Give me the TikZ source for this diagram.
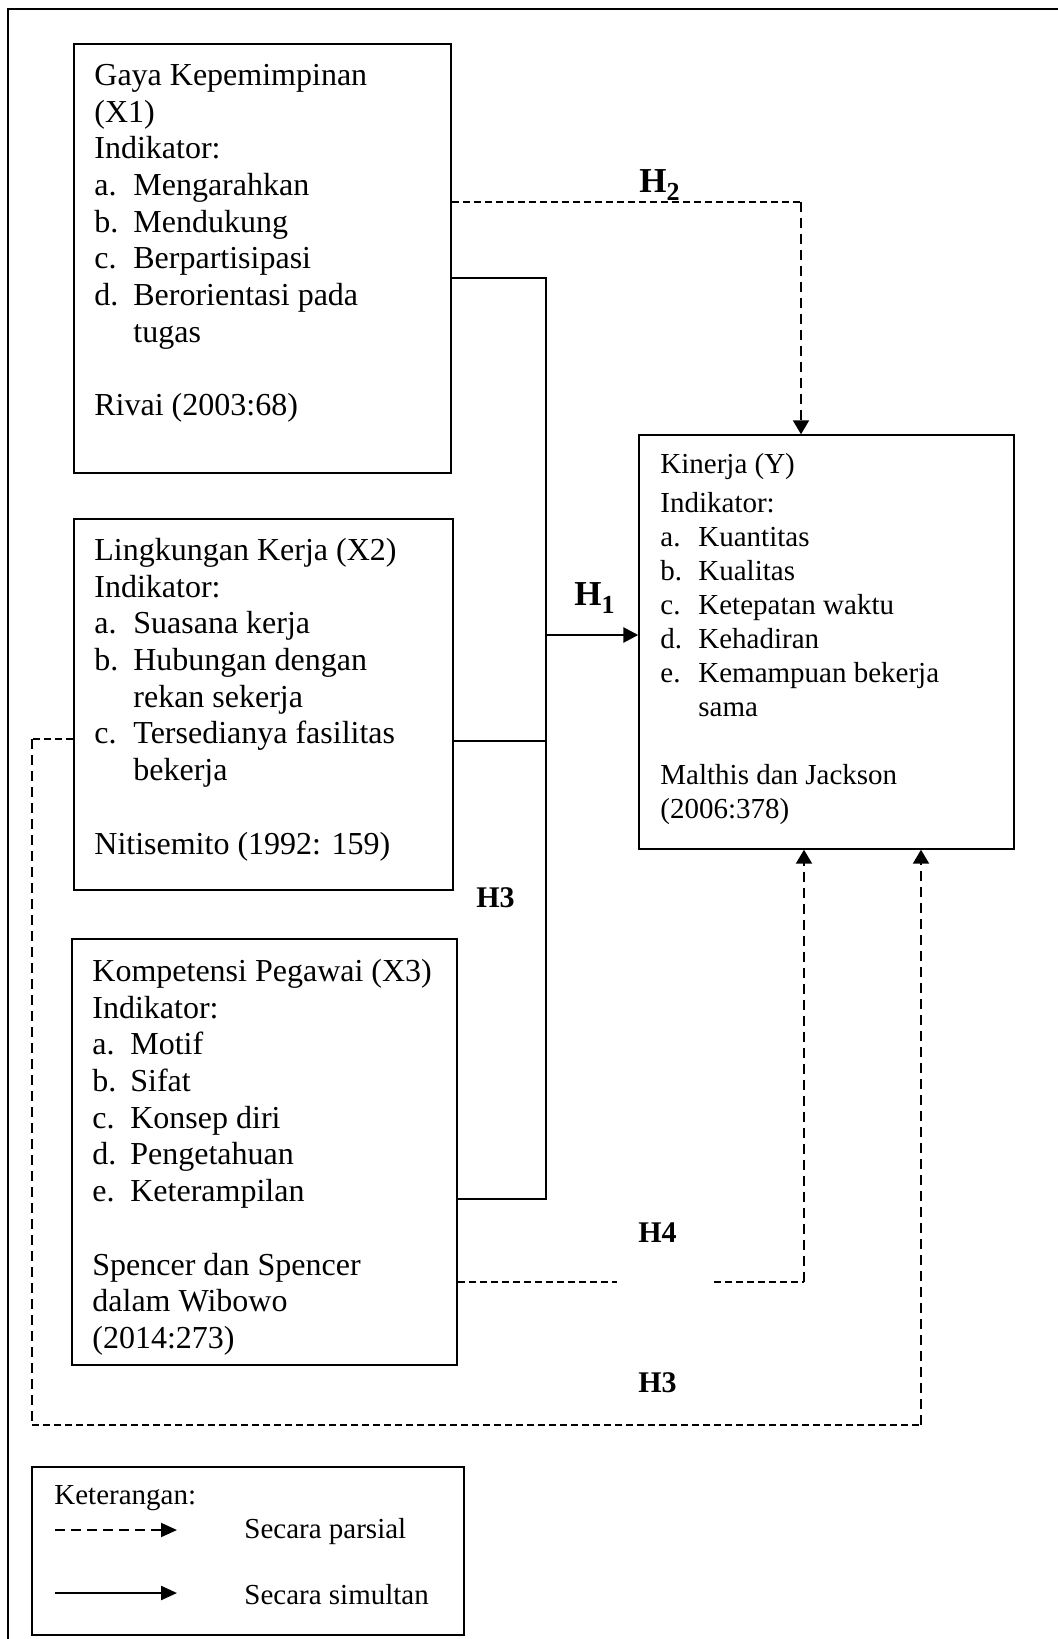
\documentclass[tikz,border=0pt]{standalone}
\usepackage{fontspec}
\setmainfont{Liberation Serif}
\usetikzlibrary{arrows.meta,fit}
\newcommand\itm[2][19.5pt]{\makebox[#1][l]{#2}}
\newcommand\hsub[1]{\raisebox{-4pt}{\fontsize{13}{13}\selectfont #1}}
\tikzset{
  varbox/.style={draw, line width=0.7pt, inner sep=0pt},
  boxtext/.style={anchor=north west, inner sep=0pt, align=left, font=\fontsize{16}{18.35}\selectfont},
  ktext/.style={anchor=north west, inner sep=0pt, align=left, font=\fontsize{14.5}{17}\selectfont},
  legtext/.style={anchor=base west, inner sep=0pt, font=\fontsize{14.5}{17}\selectfont},
  hlab/.style={anchor=base west, inner sep=0pt, font=\fontsize{15}{18}\selectfont\bfseries},
  hmath/.style={anchor=base west, inner sep=0pt, font=\fontsize{17.5}{20}\selectfont\bfseries},
  solidline/.style={line width=1pt},
  thickarrow/.style={line width=1.4pt, -{Triangle[length=7.5pt,width=7.5pt]}},
  hdash/.style={line width=0.85pt, dash pattern=on 3.5pt off 2pt},
  vdash/.style={line width=1pt, dash pattern=on 5pt off 3pt},
  varrow/.style={vdash, -{Triangle[length=7pt,width=8pt]}},
  legdash/.style={line width=1pt, dash pattern=on 5pt off 3pt, -{Triangle[length=8pt,width=7pt]}},
  legsolid/.style={line width=1.2pt, -{Triangle[length=8pt,width=7pt]}},
}
\begin{document}
\begin{tikzpicture}[x=0.5pt,y=-0.5pt]
\useasboundingbox (0,0) rectangle (1058,1639);
\clip (0,0) rectangle (1058,1639);
\fill[white] (0,0) rectangle (1058,1639);
% outer frame (cut by the page on the right and bottom)
\draw[line width=1.3pt] (8,1700) -- (8,9) -- (1120,9);

% boxes
\node[varbox, fit={(74,44) (451,473)}] (x1) {};
\node[varbox, fit={(74,519) (453,890)}] (x2) {};
\node[varbox, fit={(72,939) (457,1365)}] (x3) {};
\node[varbox, fit={(639,435) (1014,849)}] (ky) {};
\node[varbox, fit={(32,1467) (464,1635)}] (leg) {};

% box texts
\node[boxtext] (x1t) at (94,59.3) {\strut Gaya Kepemimpinan\\(X1)\\Indikator:\\
\itm{a.}Mengarahkan\\\itm{b.}Mendukung\\\itm{c.}Berpartisipasi\\
\itm{d.}Berorientasi pada\\\itm{}tugas\\\strut\\Rivai (2003:68)};
\node[boxtext] (x2t) at (94,534.3) {\strut Lingkungan Kerja (X2)\\Indikator:\\
\itm{a.}Suasana kerja\\\itm{b.}Hubungan dengan\\\itm{}rekan sekerja\\
\itm{c.}Tersedianya fasilitas\\\itm{}bekerja\\\strut\\Nitisemito (1992: 159)};
\node[boxtext] (x3t) at (92,955.3) {\strut Kompetensi Pegawai (X3)\\Indikator:\\
\itm[19pt]{a.}Motif\\\itm[19pt]{b.}Sifat\\\itm[19pt]{c.}Konsep diri\\
\itm[19pt]{d.}Pengetahuan\\\itm[19pt]{e.}Keterampilan\\\strut\\
Spencer dan Spencer\\dalam Wibowo\\(2014:273)};
\node[ktext] (kyt) at (660,449.2) {\strut Kinerja (Y)\\[2.5pt]Indikator:\\
\itm[19pt]{a.}Kuantitas\\\itm[19pt]{b.}Kualitas\\\itm[19pt]{c.}Ketepatan waktu\\
\itm[19pt]{d.}Kehadiran\\\itm[19pt]{e.}Kemampuan bekerja\\\itm[19pt]{}sama\\\strut\\
Malthis dan Jackson\\(2006:378)};

% hypothesis labels
\node[hmath] (h2) at (639,192) {H\hsub{2}};
\node[hmath] (h1) at (574,605) {H\hsub{1}};
\node[hlab] (h3m) at (476,907) {H3};
\node[hlab] (h4) at (638,1242) {H4};
\node[hlab] (h3b) at (638,1392) {H3};

% H2 (partial, X1 -> Y)
\coordinate (h2turn) at (801,202);
\draw[hdash] (x1.east |- h2turn) -- (h2turn);
\draw[varrow] (h2turn) -- (h2turn |- ky.north);

% simultaneous connectors
\coordinate (sjunc) at (546,278);
\coordinate (x3j) at (546,1199);
\coordinate (x2j) at (546,741);
\coordinate (h1y) at (546,635);
\draw[solidline] (x1.east |- sjunc) -- (sjunc) -- (x3j) -- (x3.east |- x3j);
\draw[solidline] (x2.east |- x2j) -- (x2j);
\draw[thickarrow] (x2j) -- (h1y) -- (ky.west |- h1y);

% H3 (partial, X2 -> Y)
\coordinate (h3a) at (32,739);
\coordinate (h3b) at (32,1425);
\coordinate (h3c) at (921,1425);
\draw[hdash] (x2.west |- h3a) -- (h3a);
\draw[vdash] (h3a) -- (h3b);
\draw[hdash] (h3b) -- (h3c);
\draw[varrow] (h3c) -- (h3c |- ky.south);

% H4 (partial, X3 -> Y)
\coordinate (h4a) at (617,1282);
\coordinate (h4b) at (714,1282);
\coordinate (h4c) at (804,1282);
\draw[hdash] (x3.east |- h4a) -- (h4a);
\draw[hdash] (h4b) -- (h4c);
\draw[varrow] (h4c) -- (h4c |- ky.south);

% legend
\node[legtext] (ket) at (54,1504) {Keterangan:};
\coordinate (l1a) at (55,1530);
\coordinate (l1b) at (177,1530);
\coordinate (l2a) at (55,1593);
\coordinate (l2b) at (177,1593);
\draw[legdash] (l1a) -- (l1b);
\draw[legsolid] (l2a) -- (l2b);
\node[legtext] (lp) at (244,1538) {Secara parsial};
\node[legtext] (ls) at (244,1604) {Secara simultan};
\end{tikzpicture}
\end{document}
